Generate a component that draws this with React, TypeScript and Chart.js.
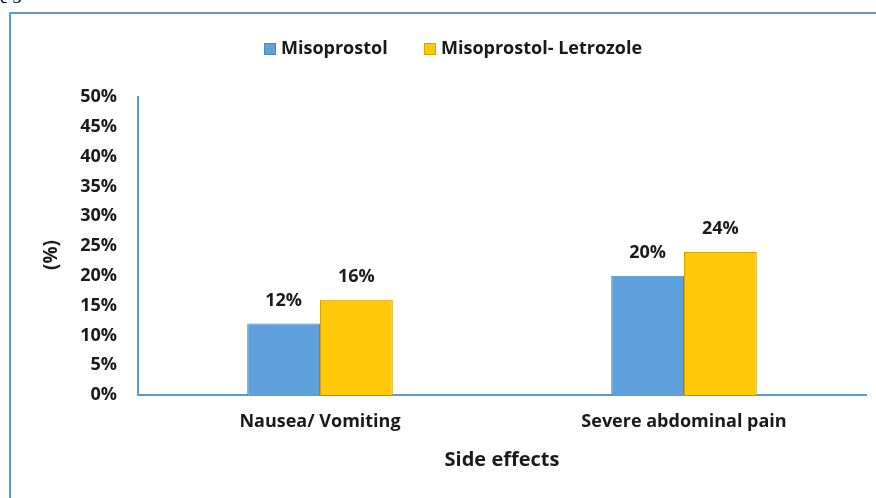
import React, { useEffect, useRef } from "react";
import { Chart, registerables } from "chart.js";

Chart.register(...registerables);

const categories = ["Nausea/ Vomiting", "Severe abdominal pain"];
const seriesNames = ["Misoprostol", "Misoprostol- Letrozole"];
const misoprostol = [12, 20];
const misoLetrozole = [16, 24];
const yTicks = [0, 5, 10, 15, 20, 25, 30, 35, 40, 45, 50];

const FONT = "'Open Sans', Lato, sans-serif";
const BLUE = "#5EA1DC";
const BLUE_EDGE = "#4A88C0";
const YELLOW = "#FFC90A";
const YELLOW_EDGE = "#D9A400";
const AXIS = "#5B9BD5";
const TEXT = "#1a1a1a";

const labelPlugin = {
  id: "valueLabels",
  afterDatasetsDraw(chart: any) {
    const ctx = chart.ctx;
    ctx.save();
    ctx.font = `bold 18px ${FONT}`;
    ctx.fillStyle = TEXT;
    ctx.textAlign = "center";
    ctx.textBaseline = "middle";
    chart.data.datasets.forEach((ds: any, i: number) => {
      const meta = chart.getDatasetMeta(i);
      meta.data.forEach((bar: any, j: number) => {
        ctx.fillText(ds.data[j] + "%", bar.x, bar.y - 23);
      });
    });
    ctx.restore();
  },
};

const legendPlugin = {
  id: "customLegend",
  afterDraw(chart: any) {
    const ctx = chart.ctx;
    ctx.save();
    ctx.font = `bold 18px ${FONT}`;
    ctx.textBaseline = "middle";
    ctx.textAlign = "left";
    const items = [
      { x: 264, color: BLUE, edge: BLUE_EDGE, text: seriesNames[0] },
      { x: 424, color: YELLOW, edge: YELLOW_EDGE, text: seriesNames[1] },
    ];
    const y = 49;
    items.forEach((it) => {
      ctx.fillStyle = it.color;
      ctx.fillRect(it.x, y - 6, 12, 12);
      ctx.strokeStyle = it.edge;
      ctx.lineWidth = 1;
      ctx.strokeRect(it.x + 0.5, y - 5.5, 11, 11);
      ctx.fillStyle = TEXT;
      ctx.fillText(it.text, it.x + 17, y);
    });
    // y-axis title
    ctx.translate(52, 255);
    ctx.rotate(-Math.PI / 2);
    ctx.textAlign = "center";
    ctx.font = `bold 19px ${FONT}`;
    ctx.fillText("(%)", 0, 0);
    ctx.restore();
  },
};

export default function App() {
  const ref = useRef<HTMLCanvasElement | null>(null);

  useEffect(() => {
    if (!ref.current) return;
    const chart = new Chart(ref.current, {
      type: "bar",
      data: {
        labels: categories,
        datasets: [
          {
            label: seriesNames[0],
            data: misoprostol,
            backgroundColor: BLUE,
            borderColor: BLUE_EDGE,
            borderWidth: 1,
          },
          {
            label: seriesNames[1],
            data: misoLetrozole,
            backgroundColor: YELLOW,
            borderColor: YELLOW_EDGE,
            borderWidth: 1,
          },
        ],
      },
      options: {
        responsive: false,
        animation: false,
        layout: { padding: { top: 97, right: 10, bottom: 0, left: 0 } },
        datasets: {
          bar: { categoryPercentage: 0.4, barPercentage: 1.0 },
        },
        plugins: {
          legend: { display: false },
          tooltip: { enabled: false },
        },
        scales: {
          x: {
            grid: { display: false, drawTicks: false },
            border: { display: true, color: AXIS, width: 2 },
            ticks: {
              padding: 16,
              color: TEXT,
              font: { family: FONT, size: 18, weight: "bold" },
            },
            title: {
              display: true,
              text: "Side effects",
              color: TEXT,
              font: { family: FONT, size: 20, weight: "bold" },
              padding: { top: 0, bottom: 26 },
            },
            afterFit(scale: any) {
              scale.height = 103;
            },
          },
          y: {
            min: 0,
            max: 50,
            afterBuildTicks(scale: any) {
              scale.ticks = yTicks.map((v) => ({ value: v }));
            },
            grid: { display: false, drawTicks: false },
            border: { display: true, color: AXIS, width: 2 },
            ticks: {
              padding: 21,
              color: TEXT,
              font: { family: FONT, size: 18, weight: "bold" },
              callback: (v: any) => v + "%",
            },
            afterFit(scale: any) {
              scale.width = 138;
            },
          },
        },
      },
      plugins: [labelPlugin, legendPlugin],
    } as any);
    return () => chart.destroy();
  }, []);

  return (
    <div
      style={{
        position: "fixed",
        left: 0,
        top: 0,
        width: 876,
        height: 498,
        background: "#fff",
        overflow: "hidden",
      }}
    >
      <div
        style={{
          position: "absolute",
          left: 0,
          top: -13,
          fontFamily: "'Liberation Serif', serif",
          fontSize: 18,
          color: "#000",
        }}
      >
        e 3
      </div>
      <div
        style={{
          position: "absolute",
          left: 9,
          top: 12,
          width: 900,
          height: 520,
          borderLeft: `2px solid ${AXIS}`,
          borderTop: `2px solid ${AXIS}`,
        }}
      />
      <canvas
        ref={ref}
        width={876}
        height={498}
        style={{ position: "absolute", left: 0, top: 0, width: 876, height: 498 }}
      />
    </div>
  );
}
